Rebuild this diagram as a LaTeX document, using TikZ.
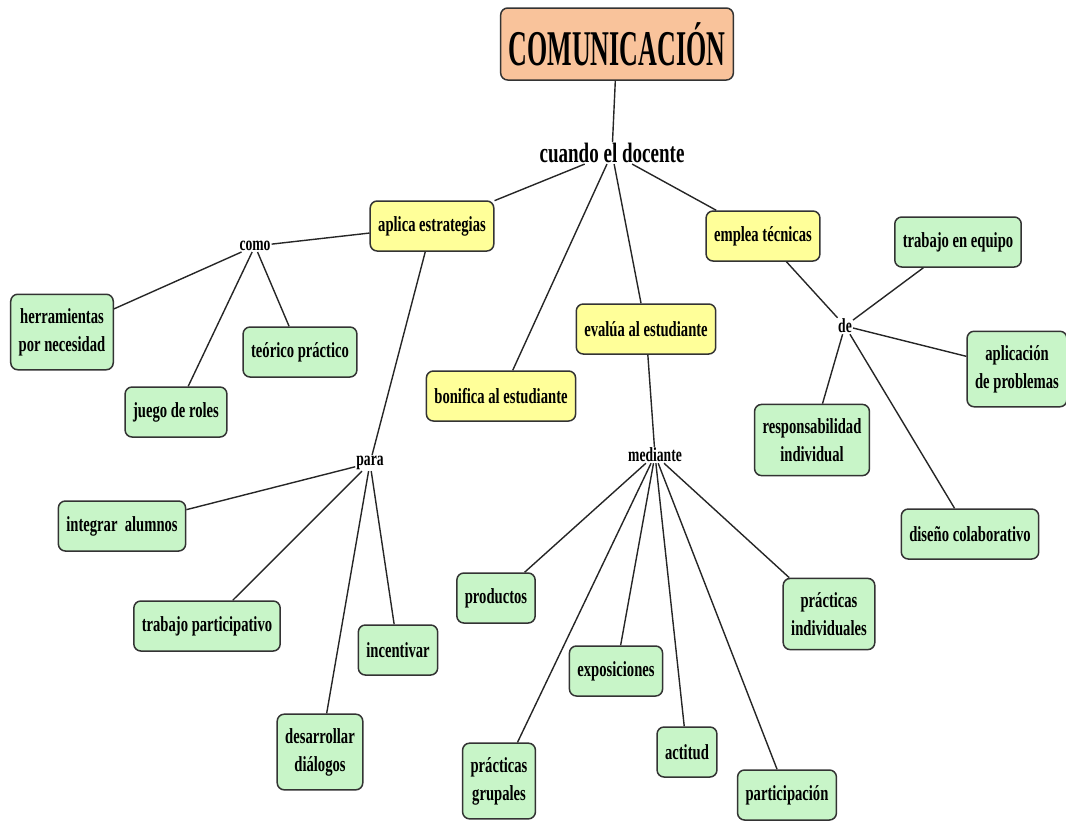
\documentclass[tikz,border=0pt]{standalone}
\usepackage{fontspec}
\setmainfont{Liberation Serif}[FakeStretch=0.68]
\newfontfamily\titlefont{Liberation Serif}[FakeStretch=0.52]
\definecolor{durazno}{HTML}{F9C39B}
\definecolor{amarillo}{HTML}{FFFF99}
\definecolor{verde}{HTML}{C8F5C8}

\begin{document}
\begin{tikzpicture}[x=1pt, y=-1pt, every node/.style={font=\bfseries\fontsize{21.5}{28}\selectfont, align=center},
        box/.style={draw=black!80, line width=1.5pt, rounded corners=7pt, inner xsep=8pt, inner ysep=14pt, minimum height=50pt},
        concepto/.style={box, fill=verde},
        accion/.style={box, fill=amarillo},
        enlace/.style={font=\bfseries\fontsize{20}{22}\selectfont, inner sep=1pt},
        linea/.style={draw=black!85, line width=1.4pt}]

        \useasboundingbox (0,0) rectangle (1066,823);

        \node[box, fill=durazno, minimum width=231pt, minimum height=72pt, inner ysep=4pt, font=\titlefont\bfseries\fontsize{50}{56}\selectfont] (comunicacion) at (617,44) {COMUNICACIÓN};
        \node[font=\bfseries\fontsize{28}{32}\selectfont, inner sep=1pt] (cuando) at (612,153) {cuando el docente};

        % aplica estrategias
        \node[accion] (aplica) at (432,226) {aplica estrategias};
        \node[enlace] (como) at (255,246) {como};
        \node[concepto] (herramientas) at (62,332) {herramientas\\por necesidad};
        \node[concepto] (teorico) at (300,352) {teórico práctico};
        \node[concepto] (juego) at (176,412) {juego de roles};
        \node[enlace] (para) at (370,463) {para};
        \node[concepto] (integrar) at (122,526) {integrar\ \ alumnos};
        \node[concepto] (participativo) at (207,626) {trabajo participativo};
        \node[concepto] (incentivar) at (398,650) {incentivar};
        \node[concepto] (dialogos) at (320,752) {desarrollar\\diálogos};

        % bonifica y evalua
        \node[accion] (bonifica) at (501,396) {bonifica al estudiante};
        \node[accion] (evalua) at (646,329) {evalúa al estudiante};
        \node[enlace] (mediante) at (655,455) {mediante};
        \node[concepto] (productos) at (496,598) {productos};
        \node[concepto] (exposiciones) at (616,671) {exposiciones};
        \node[concepto] (actitud) at (687,752) {actitud};
        \node[concepto] (grupales) at (499,781) {prácticas\\grupales};
        \node[concepto] (participacion) at (787,795) {participación};
        \node[concepto] (individuales) at (829,614) {prácticas\\individuales};

        % emplea tecnicas
        \node[accion] (emplea) at (763,236) {emplea técnicas};
        \node[enlace] (de) at (845,326) {de};
        \node[concepto] (equipo) at (958,242) {trabajo en equipo};
        \node[concepto] (aplicacion) at (1017,369) {aplicación\\de problemas};
        \node[concepto] (responsabilidad) at (812,440) {responsabilidad\\individual};
        \node[concepto] (diseno) at (970,534) {diseño colaborativo};

        \draw[linea] (comunicacion) -- (cuando);
        \foreach \destino in {aplica, bonifica, evalua, emplea}
            \draw[linea] (cuando) -- (\destino);
        \draw[linea] (aplica) -- (como);
        \foreach \destino in {herramientas, teorico, juego}
            \draw[linea] (como) -- (\destino);
        \draw[linea] (aplica) -- (para);
        \foreach \destino in {integrar, participativo, incentivar, dialogos}
            \draw[linea] (para) -- (\destino);
        \draw[linea] (evalua) -- (mediante);
        \foreach \destino in {productos, exposiciones, actitud, grupales, participacion, individuales}
            \draw[linea] (mediante) -- (\destino);
        \draw[linea] (emplea) -- (de);
        \foreach \destino in {equipo, aplicacion, responsabilidad, diseno}
            \draw[linea] (de) -- (\destino);
    \end{tikzpicture}
\end{document}
